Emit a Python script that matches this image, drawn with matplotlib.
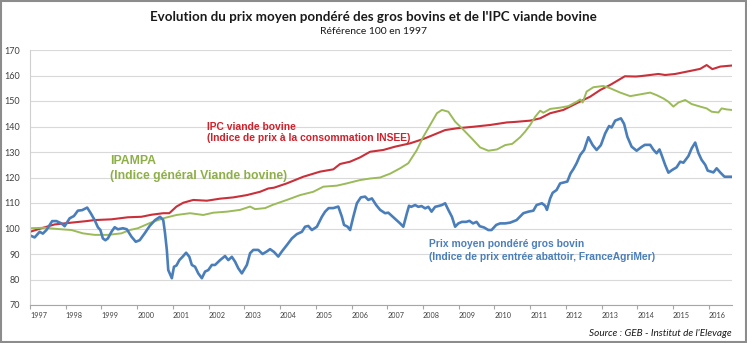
import matplotlib
matplotlib.use("Agg")
import matplotlib.pyplot as plt
from matplotlib.patches import Rectangle

# decimal years / index values (base 100 in 1997)
blue_t = [1997.00, 1997.13, 1997.27, 1997.36, 1997.46, 1997.62, 1997.74, 1997.88, 1997.97, 1998.11,
          1998.23, 1998.34, 1998.46, 1998.60, 1998.70, 1998.81, 1998.90, 1998.97, 1999.04, 1999.11,
          1999.18, 1999.28, 1999.37, 1999.46, 1999.60, 1999.71, 1999.84, 1999.96, 2000.07, 2000.21,
          2000.35, 2000.50, 2000.64, 2000.73, 2000.78, 2000.83, 2000.87, 2000.97, 2001.03, 2001.10,
          2001.18, 2001.27, 2001.37, 2001.46, 2001.53, 2001.62, 2001.71, 2001.81, 2001.90, 2001.99,
          2002.09, 2002.18, 2002.32, 2002.46, 2002.55, 2002.65, 2002.74, 2002.83, 2002.93, 2003.07,
          2003.16, 2003.25, 2003.39, 2003.51, 2003.63, 2003.72, 2003.83, 2003.95, 2004.05, 2004.19,
          2004.33, 2004.47, 2004.61, 2004.70, 2004.79, 2004.89, 2005.03, 2005.17, 2005.26, 2005.36,
          2005.49, 2005.63, 2005.73, 2005.79, 2005.89, 2005.96, 2006.05, 2006.15, 2006.26, 2006.38,
          2006.47, 2006.57, 2006.69, 2006.80, 2006.94, 2007.03, 2007.22, 2007.36, 2007.45, 2007.55,
          2007.61, 2007.67, 2007.78, 2007.87, 2007.96, 2008.06, 2008.15, 2008.24, 2008.34, 2008.43,
          2008.53, 2008.62, 2008.71, 2008.81, 2008.90, 2008.99, 2009.09, 2009.21, 2009.30, 2009.40,
          2009.50, 2009.59, 2009.71, 2009.83, 2009.92, 2010.05, 2010.16, 2010.30, 2010.44, 2010.62,
          2010.81, 2010.95, 2011.09, 2011.18, 2011.33, 2011.42, 2011.47, 2011.56, 2011.63, 2011.74,
          2011.84, 2011.93, 2012.04, 2012.13, 2012.21, 2012.30, 2012.40, 2012.51, 2012.63, 2012.75,
          2012.86, 2012.98, 2013.10, 2013.21, 2013.28, 2013.38, 2013.54, 2013.63, 2013.72, 2013.84,
          2013.98, 2014.12, 2014.21, 2014.36, 2014.45, 2014.54, 2014.62, 2014.68, 2014.78, 2014.87,
          2014.98, 2015.10, 2015.20, 2015.29, 2015.43, 2015.52, 2015.62, 2015.71, 2015.80, 2015.90,
          2015.97, 2016.13, 2016.22, 2016.32, 2016.44, 2016.64]
blue_v = [97.3, 96.5, 98.7, 98.0, 99.4, 102.9, 102.9, 102.0, 100.9, 104.0,
          104.9, 107.0, 107.2, 108.2, 106.0, 103.3, 100.5, 99.4, 96.1, 95.4,
          96.1, 98.7, 100.5, 99.7, 100.1, 99.7, 96.8, 94.8, 95.4, 98.1,
          101.0, 103.3, 104.6, 103.3, 98.1, 91.6, 83.7, 80.5, 85.0, 85.5,
          87.6, 88.9, 90.5, 88.9, 85.7, 85.0, 82.4, 80.5, 83.1, 83.7,
          85.7, 85.7, 87.6, 89.2, 87.6, 88.9, 87.0, 84.4, 82.4, 85.7,
          90.3, 91.6, 91.6, 90.0, 91.0, 91.9, 90.8, 89.0, 91.0, 93.5,
          96.1, 97.8, 98.7, 100.7, 101.0, 99.4, 100.7, 104.6, 106.6, 108.0,
          108.0, 108.6, 104.6, 101.4, 100.7, 99.4, 104.6, 109.9, 112.2, 112.5,
          111.2, 111.8, 109.2, 107.3, 106.0, 106.2, 103.8, 102.0, 100.7, 106.0,
          108.9, 108.5, 109.2, 108.5, 108.8, 107.9, 108.5, 106.6, 108.5, 108.8,
          109.2, 109.9, 107.3, 104.6, 100.7, 102.0, 102.6, 102.6, 103.0, 102.0,
          102.6, 100.9, 100.4, 99.4, 99.4, 101.4, 102.0, 102.0, 102.3, 103.3,
          106.0, 106.6, 107.0, 109.2, 109.9, 108.9, 107.3, 111.8, 114.0, 115.1,
          117.7, 118.0, 118.4, 121.6, 123.3, 125.6, 128.8, 130.8, 135.8, 132.7,
          130.8, 132.7, 137.3, 140.2, 139.6, 142.3, 143.2, 141.0, 136.0, 132.1,
          130.5, 132.0, 132.8, 132.8, 130.9, 129.5, 131.0, 128.8, 124.9, 121.9,
          123.0, 124.0, 126.2, 125.8, 128.4, 131.4, 133.7, 129.6, 126.9, 125.0,
          122.7, 122.0, 123.6, 122.0, 120.3, 120.3]

red_t = [1997.00, 1997.32, 1997.69, 1998.16, 1998.58, 1998.80, 1999.28, 1999.74, 2000.12, 2000.40,
         2000.73, 2000.90, 2001.10, 2001.29, 2001.57, 2001.95, 2002.32, 2002.69, 2003.07, 2003.44,
         2003.67, 2003.83, 2004.19, 2004.65, 2005.12, 2005.49, 2005.68, 2005.96, 2006.24, 2006.52,
         2006.89, 2007.22, 2007.64, 2008.01, 2008.29, 2008.62, 2008.95, 2009.41, 2009.88, 2010.35,
         2010.58, 2011.00, 2011.28, 2011.56, 2011.93, 2012.30, 2012.68, 2012.96, 2013.24, 2013.47,
         2013.65, 2013.96, 2014.12, 2014.59, 2014.78, 2015.06, 2015.52, 2015.76, 2015.94, 2016.10,
         2016.32, 2016.64]
red_v = [98.7, 100.1, 101.6, 102.3, 102.9, 103.3, 103.6, 104.4, 104.6, 105.4,
         106.0, 106.0, 108.6, 110.1, 111.2, 110.9, 111.7, 112.2, 113.1, 114.4,
         115.7, 116.0, 117.7, 120.3, 122.3, 123.2, 125.3, 126.2, 127.9, 130.1,
         130.8, 132.1, 133.4, 135.1, 136.7, 138.6, 139.3, 139.9, 140.6, 141.6,
         141.8, 142.3, 143.2, 145.2, 146.5, 149.1, 151.7, 154.3, 156.3, 158.2,
         159.7, 159.6, 159.8, 160.6, 160.2, 160.6, 161.9, 162.6, 164.1, 162.5,
         163.5, 163.9]

green_t = [1997.00, 1997.41, 1997.78, 1998.16, 1998.48, 1998.81, 1999.18, 1999.56, 1999.79, 2000.02,
           2000.38, 2000.73, 2001.10, 2001.48, 2001.85, 2002.13, 2002.51, 2002.88, 2003.16, 2003.30,
           2003.58, 2003.80, 2004.19, 2004.56, 2004.93, 2005.21, 2005.59, 2005.87, 2006.24, 2006.52,
           2006.80, 2007.08, 2007.36, 2007.59, 2007.83, 2008.01, 2008.20, 2008.39, 2008.53, 2008.71,
           2008.90, 2009.09, 2009.36, 2009.60, 2009.83, 2010.07, 2010.30, 2010.50, 2010.72, 2010.86,
           2011.00, 2011.14, 2011.28, 2011.37, 2011.56, 2011.84, 2012.07, 2012.30, 2012.40, 2012.47,
           2012.58, 2012.77, 2013.05, 2013.24, 2013.52, 2013.80, 2014.12, 2014.36, 2014.54, 2014.73,
           2014.87, 2015.01, 2015.15, 2015.34, 2015.52, 2015.76, 2015.94, 2016.08, 2016.27, 2016.36,
           2016.50, 2016.64]
green_v = [100.1, 100.3, 99.8, 99.4, 98.1, 97.5, 97.5, 98.1, 99.4, 100.1,
           102.3, 104.0, 105.3, 106.0, 105.3, 106.2, 106.6, 107.3, 108.6, 107.6,
           108.0, 109.3, 111.2, 113.1, 114.4, 116.4, 116.8, 117.7, 119.0, 119.6,
           120.0, 121.5, 123.6, 125.6, 130.8, 136.0, 140.6, 145.2, 146.5, 145.8,
           141.9, 139.3, 135.4, 131.8, 130.5, 131.0, 132.7, 133.2, 135.8, 138.0,
           140.6, 143.8, 146.2, 145.4, 146.9, 147.4, 148.0, 149.7, 150.6, 149.4,
           153.7, 155.4, 155.9, 155.0, 153.3, 151.9, 152.7, 153.3, 152.3, 151.0,
           149.7, 147.8, 149.4, 150.4, 148.8, 147.8, 147.1, 145.8, 145.5, 147.1,
           146.7, 146.5]

years = list(range(1997, 2017))
y_ticks = list(range(70, 171, 10))

BLUE = "#4a7ebb"
RED = "#c9303a"
GREEN = "#9bbb59"

fig = plt.figure(figsize=(7.47, 3.43), dpi=100)
fig.patch.set_facecolor("white")
fig.patches.append(Rectangle((0.001, 0.002), 0.997, 0.995, transform=fig.transFigure,
                             fill=False, edgecolor="#8c8c8c", linewidth=1.5))

ax = fig.add_axes([30 / 747, 1 - 305 / 343, 702 / 747, 255 / 343])
ax.plot(red_t, red_v, color=RED, lw=1.5)
ax.plot(green_t, green_v, color=GREEN, lw=1.4)
ax.plot(blue_t, blue_v, color=BLUE, lw=1.9)

ax.set_xlim(1997, 2016.65)
ax.set_ylim(70, 170)
ax.set_yticks(y_ticks)
ax.set_xticks(years)
ax.set_xticklabels([str(y) for y in years], ha="left")
ax.grid(axis="y", color="#d9d9d9", lw=0.8)
ax.set_axisbelow(True)
for s in ["top", "right"]:
    ax.spines[s].set_visible(False)
ax.spines["left"].set_color("#d0d0d0")
ax.spines["bottom"].set_color("#a6a6a6")
ax.tick_params(axis="y", length=0, pad=7, labelsize=6.5, labelcolor="#404040")
ax.tick_params(axis="x", length=3, color="#a6a6a6", pad=2, labelsize=5.2, labelcolor="#404040")
for lab in ax.get_xticklabels() + ax.get_yticklabels():
    lab.set_family("Lato")

lab_font = "Liberation Sans"
ax.text(2001.96, 139.9, "IPC viande bovine", color="#d0202a", fontsize=7.35,
        fontweight="bold", family=lab_font, va="center")
ax.text(2001.96, 135.3, "(Indice de prix à la consommation INSEE)", color="#d0202a",
        fontsize=7.35, fontweight="bold", family=lab_font, va="center")
ax.text(1999.24, 126.5, "IPAMPA", color="#8db046", fontsize=8.8,
        fontweight="bold", family=lab_font, va="center")
ax.text(1999.24, 120.7, "(Indice général Viande bovine)", color="#8db046", fontsize=8.8,
        fontweight="bold", family=lab_font, va="center")
ax.text(2008.17, 93.9, "Prix moyen pondéré gros bovin", color=BLUE, fontsize=7.4,
        fontweight="bold", family=lab_font, va="center")
ax.text(2008.17, 88.8, "(Indice de prix entrée abattoir, FranceAgriMer)", color=BLUE,
        fontsize=7.4, fontweight="bold", family=lab_font, va="center")

fig.text(0.5, 1 - 17 / 343, "Evolution du prix moyen pondéré des gros bovins et de l'IPC viande bovine",
         ha="center", va="center", fontsize=9.6, fontweight="bold", family="Lato", color="#1a1a1a")
fig.text(0.5, 1 - 32 / 343, "Référence 100 en 1997", ha="center", va="center",
         fontsize=7.5, family="Lato", color="#1a1a1a")
fig.text(732 / 747, 1 - 333 / 343, "Source : GEB - Institut de l'Elevage", ha="right", va="center",
         fontsize=7.2, style="italic", family="Lato", color="#1a1a1a")

fig.savefig("out.png", dpi=100)
